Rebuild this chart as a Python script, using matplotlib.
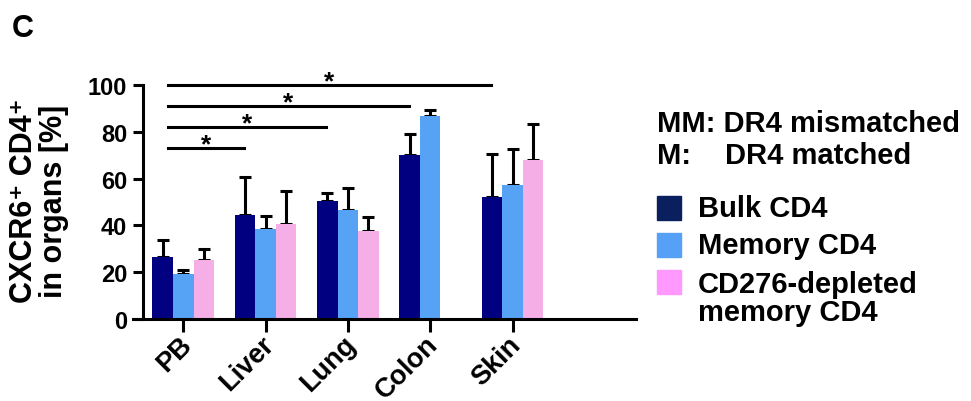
import numpy as np
import matplotlib
matplotlib.use('Agg')
import matplotlib.pyplot as plt
from matplotlib.patches import Rectangle
from matplotlib.transforms import ScaledTranslation

plt.rcParams['font.family'] = ['Liberation Sans', 'DejaVu Sans']
plt.rcParams['font.weight'] = 'bold'

organs = ['PB', 'Liver', 'Lung', 'Colon', 'Skin']
bulk = [26.6, 44.6, 50.3, 70.1, 52.0]
bulk_err = [7.2, 15.9, 3.7, 8.9, 18.4]
memory = [19.4, 38.5, 46.6, 86.6, 57.3]
memory_err = [1.6, 5.5, 9.2, 2.8, 15.3]
depleted = [25.1, 40.5, 37.5, np.nan, 67.9]
depleted_err = [4.8, 14.3, 6.1, np.nan, 15.5]

series_names = ['Bulk CD4', 'Memory CD4', 'CD276-depleted\nmemory CD4']
bar_colors = ['#000080', '#56a3f5', '#f5aee6']
legend_colors = ['#0a1f5e', '#56a0f5', '#ff99ff']

# significance: (from group, to group, height)
sig_pairs = [(0, 1, 73.2), (0, 2, 82.2), (0, 3, 91.0), (0, 4, 100.0)]

fig = plt.figure(figsize=(9.71, 4.02), dpi=100)
ax = fig.add_axes([0.137, 0.204, 0.518, 0.582])

x = np.arange(len(organs))
width = 0.25
lw = 2.2
series = [(bulk, bulk_err), (memory, memory_err), (depleted, depleted_err)]
for k, (vals, errs) in enumerate(series):
    pos = x + (k - 1) * width
    ax.bar(pos, vals, width=width, color=bar_colors[k], zorder=2)
    ax.errorbar(pos, vals, yerr=[np.zeros(len(errs)), errs], fmt='none',
                ecolor='black', elinewidth=lw, capsize=4.2, capthick=lw, zorder=1)

for i, j, h in sig_pairs:
    ax.plot([i - 0.19, j - 0.26], [h, h], color='black', lw=lw, clip_on=False)
    ax.text((i - 0.19 + j - 0.26) / 2, h - 3.5, '*', ha='center', va='bottom',
            fontsize=19, fontweight='bold', clip_on=False)

ax.set_xlim(-0.61, 5.5)
ax.set_ylim(0, 100)
ax.set_yticks([0, 20, 40, 60, 80, 100])
ax.set_xticks(x)
ax.set_xticklabels([])
# rotated category labels, placed by hand so they sit close to the ticks
label_tr = ax.get_xaxis_transform() + ScaledTranslation(-5 / 100, -12 / 100, fig.dpi_scale_trans)
for xi, name in zip(x, organs):
    ax.text(xi, 0, name, transform=label_tr, rotation=45, ha='right', va='top',
            rotation_mode='anchor', fontsize=19.5, fontweight='bold', clip_on=False)

ax.spines['top'].set_visible(False)
ax.spines['right'].set_visible(False)
ax.spines['left'].set_position(('data', -0.49))
ax.spines['left'].set_linewidth(lw)
ax.spines['bottom'].set_linewidth(lw)
ax.tick_params(axis='y', length=7.2, width=lw, pad=4, labelsize=17)
ax.tick_params(axis='x', length=9, width=lw, pad=1)

fig.text(39 / 971, 0.5, 'CXCR6\u207a CD4\u207a\nin organs [%]', fontsize=22,
         fontweight='bold', rotation=90, ha='center', va='center',
         linespacing=1.0)

fig.text(12 / 971, 1 - 37 / 402, 'C', fontsize=22, fontweight='bold', va='baseline')

# legend drawn by hand
fig.text(657 / 971, 1 - 132 / 402, 'MM: DR4 mismatched', fontsize=21,
         fontweight='bold', va='baseline')
fig.text(657 / 971, 1 - 164 / 402, 'M:', fontsize=21, fontweight='bold', va='baseline')
fig.text(725 / 971, 1 - 164 / 402, 'DR4 matched', fontsize=21, fontweight='bold', va='baseline')

legend_y = [209, 246, 283]
for k, name in enumerate(series_names):
    yc = legend_y[k]
    fig.patches.append(Rectangle((657 / 971, 1 - (yc + 12) / 402), 24 / 971, 24 / 402,
                                 transform=fig.transFigure, color=legend_colors[k]))
    if '\n' in name:
        fig.text(698 / 971, 1 - (yc - 12) / 402, name, fontsize=21,
                 fontweight='bold', va='top', linespacing=1.0)
    else:
        fig.text(698 / 971, 1 - yc / 402, name, fontsize=21,
                 fontweight='bold', va='center')

fig.savefig('out.png', dpi=100)
